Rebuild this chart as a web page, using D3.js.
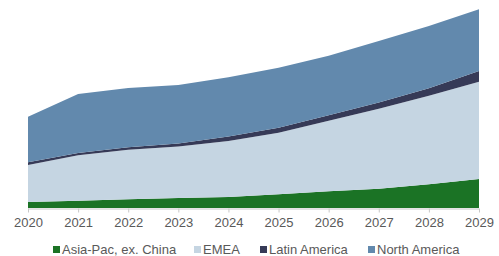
<!DOCTYPE html>
<html><head><meta charset="utf-8">
<script src="https://cdn.jsdelivr.net/npm/d3@7"></script>
<style>html,body{margin:0;padding:0;background:#fff;}svg{display:block;}</style>
</head><body>
<svg id="chart" width="499" height="256"></svg>
<script>
const years = ["2020","2021","2022","2023","2024","2025","2026","2027","2028","2029"];
const seriesNames = ["Asia-Pac, ex. China","EMEA","Latin America","North America"];
const asiaPac = [6, 7.3, 8.7, 10, 11, 13.7, 16.7, 19.3, 23.7, 29];
const emea = [37, 45.5, 49.5, 51.5, 56, 61.5, 70.5, 80, 88.5, 97.3];
const latinAmerica = [2.7, 2.3, 2.5, 3, 4.5, 5, 5.5, 6.3, 7.5, 10.8];
const northAmerica = [45.6, 58.9, 59.3, 58.5, 59.2, 60.1, 59.6, 61.4, 62.3, 61.6];
const colors = ["#1b7325", "#c5d5e2", "#363a57", "#6289ad"];

const svg = d3.select("#chart");
const table = years.map((y,i)=>({year:y, "Asia-Pac, ex. China":asiaPac[i], "EMEA":emea[i], "Latin America":latinAmerica[i], "North America":northAmerica[i]}));
const stack = d3.stack().keys(seriesNames)(table);

const x = d3.scalePoint().domain(years).range([28, 479]);
const y = d3.scaleLinear().domain([0, 200]).range([208, 8]);

const area = d3.area().x(d=>x(d.data.year)).y0(d=>y(d[0])).y1(d=>y(d[1])).curve(d3.curveLinear);
svg.append("g").selectAll("path").data(stack).join("path")
  .attr("d", area).attr("fill", (d,i)=>colors[i]);

const ax = svg.append("g").attr("transform","translate(0,208.5)")
  .call(d3.axisBottom(x).tickSize(4).tickPadding(5));
ax.select(".domain").attr("stroke","#c8c8c8").attr("d","M28,0.5H479");
ax.selectAll(".tick line").attr("stroke","#c8c8c8");
ax.selectAll("text").attr("fill","#595959").attr("font-family","Liberation Sans, Arial, sans-serif").attr("font-size","13px");

const legendX = [53, 194, 260, 368];
const lg = svg.append("g").selectAll("g").data(seriesNames).join("g")
  .attr("transform",(d,i)=>`translate(${legendX[i]},249)`);
lg.append("rect").attr("x",0).attr("y",-3).attr("width",7).attr("height",7).attr("fill",(d,i)=>colors[i]);
lg.append("text").attr("x",9).attr("y",5).text(d=>d)
  .attr("fill","#595959").attr("font-family","Liberation Sans, Arial, sans-serif").attr("font-size","13px");
</script>
</body></html>
